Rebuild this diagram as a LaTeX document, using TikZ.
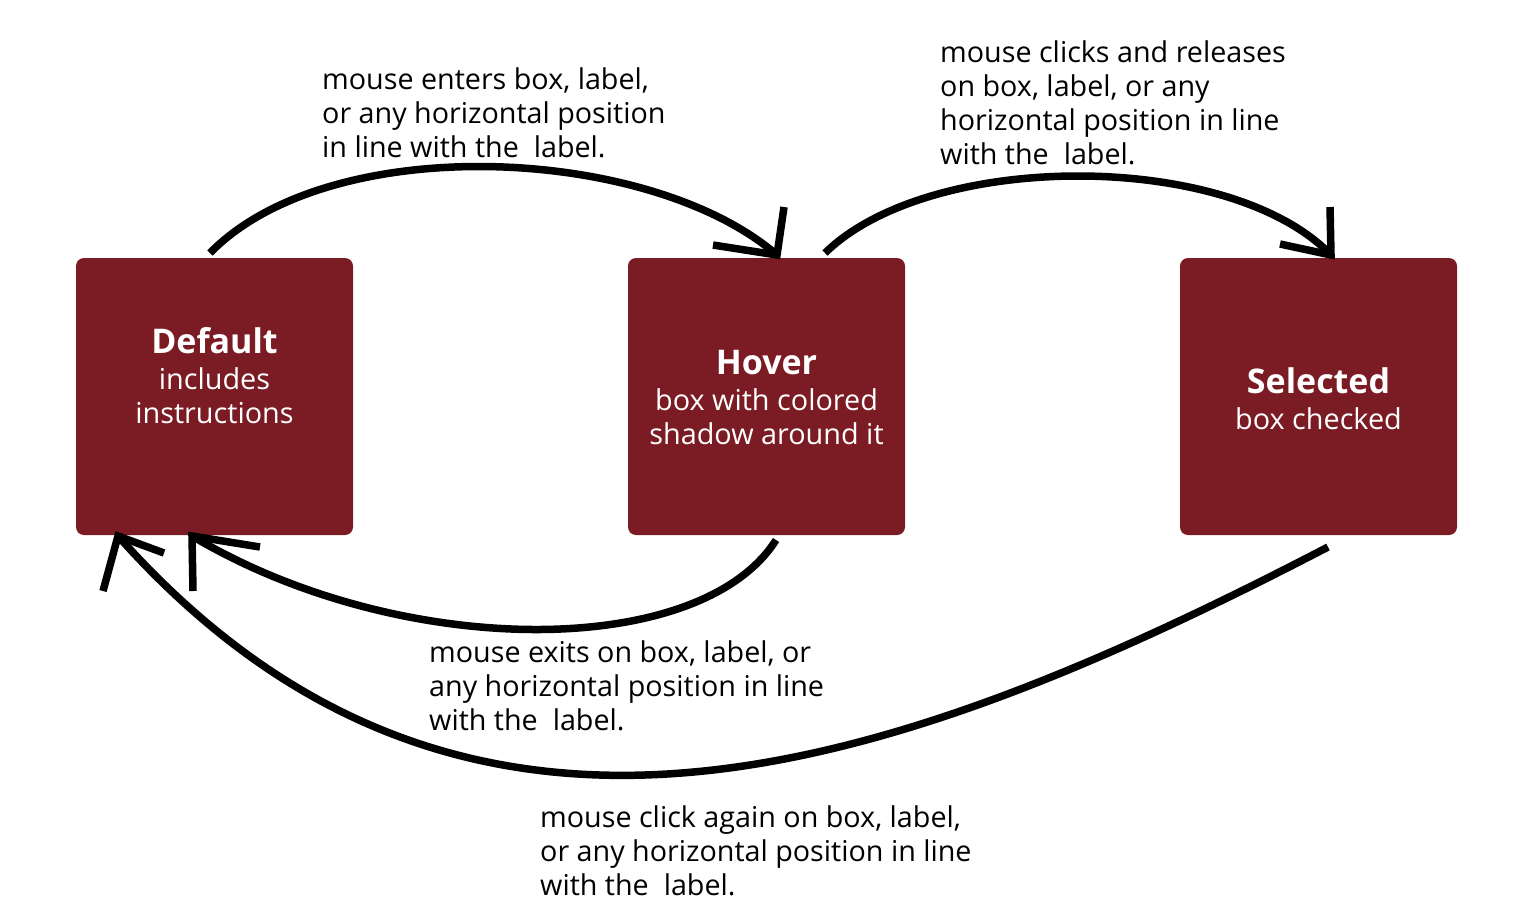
\documentclass[tikz,border=0pt]{standalone}
\usepackage{fontspec}
\setmainfont{Open Sans}
\definecolor{boxred}{HTML}{7B1C24}
\tikzset{
  statebox/.style={draw=none,fill=boxred,rounded corners=8pt,minimum width=277pt,minimum height=277pt,inner sep=0pt},
  boxtext/.style={text=white,align=center,inner sep=0pt,font=\fontsize{28.8}{34}\selectfont},
  note/.style={anchor=north west,align=left,inner sep=0pt,font=\fontsize{28.7}{34}\selectfont},
  flow/.style={line width=7.5pt,line cap=butt},
  barb/.style={line width=7.5pt,line cap=butt,line join=miter,miter limit=10},
}
\newcommand{\ttl}[1]{{\fontsize{34}{40}\selectfont\bfseries #1}}
\begin{document}
\begin{tikzpicture}[x=1pt,y=-1pt]
\useasboundingbox (0,0) rectangle (1538,922);
\node[statebox] (def) at (214.5,396.5) {};
\node[statebox] (hov) at (766.5,396.5) {};
\node[statebox] (sel) at (1318.5,396.5) {};
\node[boxtext] (deft) at (214.5,376) {\ttl{Default}\\[2pt]includes\\instructions};
\node[boxtext] (hovt) at (766.5,397) {\ttl{Hover}\\[2pt]box with colored\\shadow around it};
\node[boxtext] (selt) at (1318.5,399) {\ttl{Selected}\\[2pt]box checked};
% connector end points
\coordinate (a1s) at (210,253);
\coordinate (a1e) at (777,255);
\coordinate (a2s) at (825,253);
\coordinate (a2e) at (1331,255);
\coordinate (a3s) at (776,540);
\coordinate (a3e) at (192,536);
\coordinate (a4s) at (1328,547);
\coordinate (a4e) at (118,536);
% barb ends
\coordinate (b1u) at (784,207);
\coordinate (b1l) at (713,245);
\coordinate (b2u) at (1330,207);
\coordinate (b2l) at (1280,244);
\coordinate (b3d) at (193,591);
\coordinate (b3r) at (260,547);
\coordinate (b4d) at (103,591);
\coordinate (b4r) at (164,553);
\draw[flow] (a1s) .. controls (330,130) and (650,145) .. (a1e);
\draw[flow] (a2s) .. controls (930,150) and (1230,150) .. (a2e);
\draw[flow] (a3s) .. controls (700,660) and (400,660) .. (a3e);
\draw[flow] (a4s) .. controls (880,780) and (460,920) .. (a4e);
\draw[barb] (b1u) -- (a1e) -- (b1l);
\draw[barb] (b2u) -- (a2e) -- (b2l);
\draw[barb] (b3d) -- (a3e) -- (b3r);
\draw[barb] (b4d) -- (a4e) -- (b4r);
\node[note] (n1) at (322,67) {mouse enters box, label,\\or any horizontal position\\in line with the~ label.};
\node[note] (n2) at (940,40) {mouse clicks and releases\\on box, label, or any\\horizontal position in line\\with the~ label.};
\node[note] (n3) at (429,640) {mouse exits on box, label, or\\any horizontal position in line\\with the~ label.};
\node[note] (n4) at (540,805) {mouse click again on box, label,\\or any horizontal position in line\\with the~ label.};
\end{tikzpicture}
\end{document}
